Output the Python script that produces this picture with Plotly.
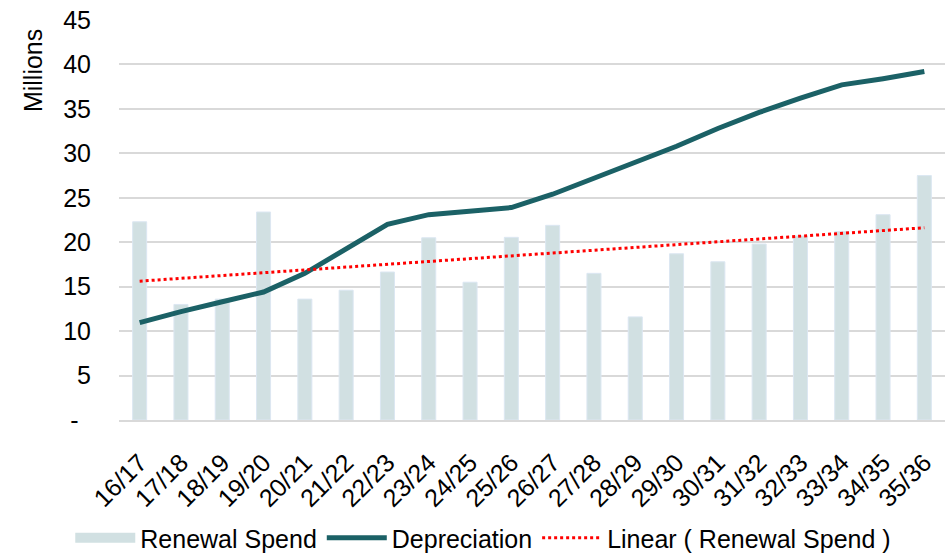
import numpy as np
import plotly.graph_objects as go

# Financial years
years = ["16/17", "17/18", "18/19", "19/20", "20/21", "21/22", "22/23", "23/24",
         "24/25", "25/26", "26/27", "27/28", "28/29", "29/30", "30/31", "31/32",
         "32/33", "33/34", "34/35", "35/36"]

# Renewal spend per year (millions)
renewal_spend = [22.3, 13.0, 13.6, 23.4, 13.6, 14.6, 16.65, 20.5, 15.5, 20.55,
                 21.9, 16.5, 11.6, 18.7, 17.8, 19.8, 20.7, 21.2, 23.1, 27.5]

# Depreciation per year (millions)
depreciation = [10.95, 12.2, 13.3, 14.4, 16.5, 19.3, 22.0, 23.1, 23.5, 23.9,
                25.4, 27.2, 29.1, 30.8, 32.8, 34.6, 36.2, 37.7, 38.4, 39.2]

y_ticks = [0, 5, 10, 15, 20, 25, 30, 35, 40, 45]
# accounting-style zero: a dash padded on the right
y_tick_labels = ["-\u2002", "5", "10", "15", "20", "25", "30", "35", "40", "45"]

# Least-squares linear trend of renewal spend
idx = np.arange(len(renewal_spend))
slope, intercept = np.polyfit(idx, renewal_spend, 1)
trend = slope * idx + intercept

FONT = "Liberation Sans, Arial, sans-serif"
FS = 25
BAR_COLOR = "#D1E0E2"

fig = go.Figure()

fig.add_trace(go.Bar(
    x=years, y=renewal_spend, name="Renewal Spend", showlegend=False,
    marker=dict(color=BAR_COLOR, line=dict(color="#DCE7F2", width=1)),
))

# Wide swatch legend entry for the bars
fig.add_trace(go.Scatter(
    x=[None], y=[None], name="Renewal Spend", mode="lines",
    line=dict(color=BAR_COLOR, width=20),
))

fig.add_trace(go.Scatter(
    x=years, y=depreciation, name="Depreciation", mode="lines",
    line=dict(color="#1B6166", width=5),
))

fig.add_trace(go.Scatter(
    x=years, y=trend, name="Linear ( Renewal Spend )", mode="lines",
    line=dict(color="#FF0000", width=3, dash="dot"),
))

fig.update_layout(
    width=950, height=553,
    margin=dict(l=119, r=5, t=20, b=133, autoexpand=False),
    paper_bgcolor="white", plot_bgcolor="white",
    font=dict(family=FONT, size=FS, color="#000000"),
    bargap=0.66,
    showlegend=True,
    legend=dict(
        orientation="h", x=0.441, xanchor="center",
        yref="container", y=0.027, yanchor="middle",
        font=dict(family=FONT, size=FS, color="#000000"),
        itemwidth=60, traceorder="normal",
    ),
    xaxis=dict(
        type="category", tickangle=-45, showgrid=False, automargin=False,
        showline=True, linecolor="#D9D9D9", linewidth=2,
        ticks="", tickfont=dict(size=FS), ticklabelstandoff=16,
    ),
    yaxis=dict(
        range=[0, 45], tickvals=y_ticks, ticktext=y_tick_labels,
        showgrid=True, gridcolor="#D9D9D9", gridwidth=2, automargin=False,
        zeroline=False, showline=False, ticks="",
        ticklabelstandoff=27, tickfont=dict(size=FS),
    ),
    annotations=[dict(
        text="Millions", textangle=-90, showarrow=False,
        xref="paper", yref="paper", x=-0.104, y=0.8725,
        xanchor="center", yanchor="middle",
        font=dict(family=FONT, size=FS, color="#000000"),
    )],
)

fig.write_html("out.html")
